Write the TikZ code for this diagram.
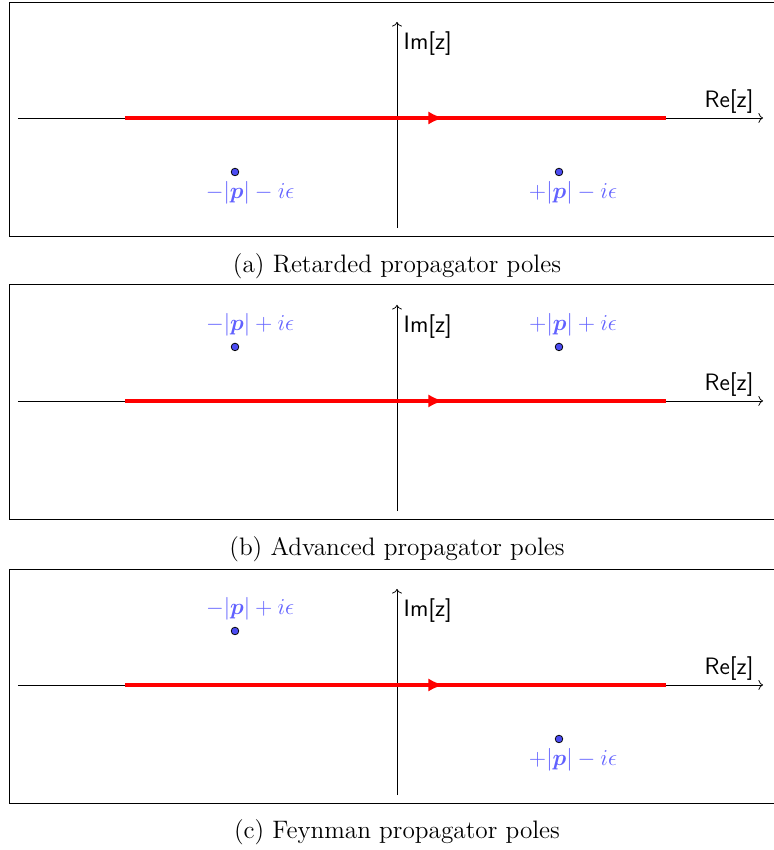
\documentclass[tikz,border=0pt]{standalone}
\usepackage{amsmath,bm}
\usetikzlibrary{arrows.meta}
\definecolor{polecol}{rgb}{0.3,0.3,0.95}
\definecolor{labcol}{rgb}{0.38,0.38,1}
\begin{document}
\begin{tikzpicture}[axis/.style={->, thin},
		contour/.style={red, line width=2pt},
		pole/.style={circle, draw=black, fill=polecol, inner sep=0pt, minimum size=4pt, thin},
		polelab/.style={text=labcol, font=\fontsize{13}{15}\selectfont},
		axlab/.style={font=\fontsize{12.5}{15}\sffamily},
		caption/.style={font=\fontsize{13.3}{15}\selectfont}]
	\useasboundingbox (-7.352,2.185) rectangle (6.981,-13.556);
	% (a) retarded
	\begin{scope}
		\draw[thin] (-7.17,2.15) rectangle (7.4,-2.185);
		\coordinate (xa0) at (-7.02,0);
		\coordinate (xa1) at (6.78,0);
		\coordinate (ya0) at (0,-2.04);
		\coordinate (ya1) at (0,1.78);
		\draw[axis] (xa0) -- (xa1);
		\draw[axis] (ya0) -- (ya1);
		\node[axlab, anchor=west] (ima) at (0,1.37) {Im[z]};
		\node[axlab] (rea) at (6.15,0.31) {Re[z]};
		\coordinate (ca0) at (-5.03,0);
		\coordinate (ca1) at (4.98,0);
		\coordinate (cam) at (-1,0);
		\coordinate (cat) at (0.86,0);
		\draw[contour] (ca0) -- (ca1);
		\draw[contour, -{Latex[length=8pt,width=7pt]}] (cam) -- (cat);
		\node[pole] (pa1) at (-3,-1) {};
		\node[pole] (pa2) at (3,-1) {};
		\node[polelab] (la1) at (-2.72,-1.39) {$-|\bm{p}|-i\epsilon$};
		\node[polelab] (la2) at (3.26,-1.39) {$+|\bm{p}|-i\epsilon$};
		\node[caption] (capa) at (0,-2.74) {(a) Retarded propagator poles};
	\end{scope}
	% (b) advanced
	\begin{scope}[yshift=-5.24cm]
		\draw[thin] (-7.17,2.15) rectangle (7.4,-2.185);
		\coordinate (xb0) at (-7.02,0);
		\coordinate (xb1) at (6.78,0);
		\coordinate (yb0) at (0,-2.04);
		\coordinate (yb1) at (0,1.78);
		\draw[axis] (xb0) -- (xb1);
		\draw[axis] (yb0) -- (yb1);
		\node[axlab, anchor=west] (imb) at (0,1.37) {Im[z]};
		\node[axlab] (reb) at (6.15,0.31) {Re[z]};
		\coordinate (cb0) at (-5.03,0);
		\coordinate (cb1) at (4.98,0);
		\coordinate (cbm) at (-1,0);
		\coordinate (cbt) at (0.86,0);
		\draw[contour] (cb0) -- (cb1);
		\draw[contour, -{Latex[length=8pt,width=7pt]}] (cbm) -- (cbt);
		\node[pole] (pb1) at (-3,1) {};
		\node[pole] (pb2) at (3,1) {};
		\node[polelab] (lb1) at (-2.72,1.41) {$-|\bm{p}|+i\epsilon$};
		\node[polelab] (lb2) at (3.26,1.41) {$+|\bm{p}|+i\epsilon$};
		\node[caption] (capb) at (0,-2.74) {(b) Advanced propagator poles};
	\end{scope}
	% (c) feynman
	\begin{scope}[yshift=-10.5cm]
		\draw[thin] (-7.17,2.15) rectangle (7.4,-2.185);
		\coordinate (xc0) at (-7.02,0);
		\coordinate (xc1) at (6.78,0);
		\coordinate (yc0) at (0,-2.04);
		\coordinate (yc1) at (0,1.78);
		\draw[axis] (xc0) -- (xc1);
		\draw[axis] (yc0) -- (yc1);
		\node[axlab, anchor=west] (imc) at (0,1.37) {Im[z]};
		\node[axlab] (rec) at (6.15,0.31) {Re[z]};
		\coordinate (cc0) at (-5.03,0);
		\coordinate (cc1) at (4.98,0);
		\coordinate (ccm) at (-1,0);
		\coordinate (cct) at (0.86,0);
		\draw[contour] (cc0) -- (cc1);
		\draw[contour, -{Latex[length=8pt,width=7pt]}] (ccm) -- (cct);
		\node[pole] (pc1) at (-3,1) {};
		\node[pole] (pc2) at (3,-1) {};
		\node[polelab] (lc1) at (-2.72,1.41) {$-|\bm{p}|+i\epsilon$};
		\node[polelab] (lc2) at (3.26,-1.39) {$+|\bm{p}|-i\epsilon$};
		\node[caption] (capc) at (0,-2.72) {(c) Feynman propagator poles};
	\end{scope}
\end{tikzpicture}
\end{document}
